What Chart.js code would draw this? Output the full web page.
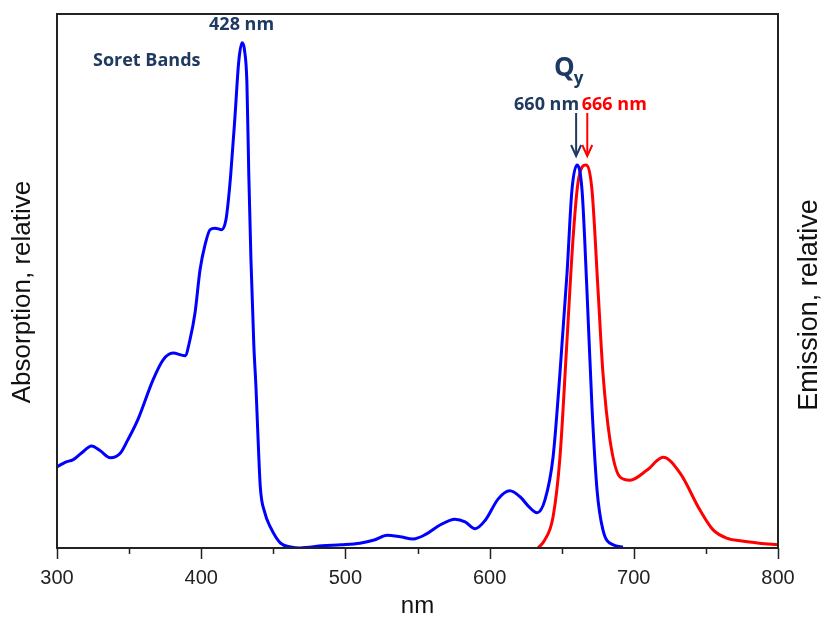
<!DOCTYPE html>
<html>
<head>
<meta charset="utf-8">
<script src="https://cdn.jsdelivr.net/npm/chart.js@4.4.1/dist/chart.umd.min.js"></script>
<style>
  html, body { margin: 0; padding: 0; background: #fff; }
  #wrap { width: 822px; height: 625px; }
</style>
</head>
<body>
<div id="wrap"><canvas id="spectra" width="822" height="625"></canvas></div>
<script>
// Absorption spectrum (relative units, 0-100)
const absWavelengths = [300, 306, 311, 317, 324, 330, 337, 344, 349, 356, 366.6, 373.5, 380.4, 388.8, 392.2, 395.7, 399.2, 402.6, 406.1, 409.6, 414.4, 417.2, 418.8, 420.5, 423.4, 426, 428.3, 430, 431.7, 433, 434.5, 436.5, 438, 439.2, 441, 444, 448, 455, 462, 468.5, 484, 497, 510, 520, 529, 538, 547, 556, 565.6, 576, 583, 590, 597, 606, 614, 621.1, 627, 632.9, 638.4, 644, 648.8, 653.7, 657.1, 660.6, 664.1, 667.5, 671, 674.5, 678.6, 685.6, 692.5];
const absValues = [15.2, 16.1, 16.5, 17.8, 19.1, 18.2, 16.9, 17.8, 20.2, 24.0, 31.5, 35.2, 36.5, 36.0, 39.0, 44.0, 52.1, 56.7, 59.6, 59.9, 59.6, 61.5, 65.0, 70.0, 80.7, 91.0, 94.6, 93.3, 87.1, 70.0, 54.0, 38.0, 30.0, 22.0, 11.4, 6.7, 3.9, 0.9, 0.2, 0, 0.4, 0.6, 0.9, 1.5, 2.4, 2.1, 1.7, 2.6, 4.3, 5.4, 4.9, 3.6, 5.2, 9.2, 10.7, 9.6, 7.8, 6.6, 9.0, 17.0, 32.8, 51.5, 67.0, 71.7, 67.0, 48.3, 26.4, 10.9, 3.4, 0.6, 0.2];

// Emission spectrum (relative units, 0-100)
const emWavelengths = [633.6, 638, 644, 648.8, 653.7, 657.8, 661.3, 666.8, 671, 675.2, 678.6, 683.5, 690.4, 697.4, 709.2, 720.3, 732.1, 745.9, 755, 765, 775, 787, 800];
const emValues = [0, 1.4, 5.8, 17.0, 39.0, 57.7, 68.4, 71.7, 67.0, 48.3, 32.8, 20.2, 13.3, 12.7, 14.6, 17.0, 14.0, 7.1, 3.4, 1.8, 1.3, 0.9, 0.6];

const xTickValues = [300, 400, 500, 600, 700, 800];
const xMinorTicks = [350, 450, 550, 650, 750];

const soretPeak = { nm: 428, label: '428 nm' };
const qyAbs = { nm: 660, label: '660 nm' };
const qyEm = { nm: 666, label: '666 nm' };

const NAVY = '#1f3a60';
const FONT = '"Liberation Sans", Arial, sans-serif';
const LABEL_FONT = '"Open Sans", "Noto Sans", sans-serif';

function toPoints(xs, ys) {
    return xs.map((x, i) => ({ x: x, y: ys[i] }));
}

// frame around the plot, tick marks under the x axis, side titles
const framePlugin = {
    id: 'frame',
    afterDatasetsDraw(chart) {
        const { ctx, chartArea: a, scales } = chart;
        ctx.save();
        ctx.strokeStyle = '#222';
        ctx.lineWidth = 2;
        ctx.strokeRect(a.left, a.top, a.right - a.left, a.bottom - a.top);
        ctx.lineWidth = 1.5;
        ctx.beginPath();
        xTickValues.forEach(v => {
            const px = Math.round(scales.x.getPixelForValue(v)) + 0.5;
            ctx.moveTo(px, a.bottom);
            ctx.lineTo(px, a.bottom + 11);
        });
        xMinorTicks.forEach(v => {
            const px = Math.round(scales.x.getPixelForValue(v)) + 0.5;
            ctx.moveTo(px, a.bottom);
            ctx.lineTo(px, a.bottom + 6);
        });
        ctx.stroke();

        // both side titles read bottom to top
        ctx.fillStyle = '#111';
        ctx.textAlign = 'center';
        ctx.textBaseline = 'middle';
        const cy = (a.top + a.bottom) / 2;
        ctx.save();
        ctx.translate(23, cy + 11);
        ctx.rotate(-Math.PI / 2);
        ctx.font = '26px ' + FONT;
        ctx.fillText('Absorption, relative', 0, 0);
        ctx.restore();
        ctx.save();
        ctx.translate(a.right + 32, cy + 24);
        ctx.rotate(-Math.PI / 2);
        ctx.font = '27px ' + FONT;
        ctx.fillText('Emission, relative', 0, 0);
        ctx.restore();
        ctx.restore();
    }
};

function arrowDown(ctx, x, y0, y1, color) {
    ctx.strokeStyle = color;
    ctx.lineWidth = 2;
    ctx.beginPath();
    ctx.moveTo(x, y0);
    ctx.lineTo(x, y1 - 2);
    ctx.stroke();
    ctx.beginPath();
    ctx.moveTo(x - 5, y1 - 11);
    ctx.lineTo(x, y1);
    ctx.lineTo(x + 5, y1 - 11);
    ctx.stroke();
}

// peak labels and arrows
const labelPlugin = {
    id: 'peakLabels',
    afterDraw(chart) {
        const { ctx, scales } = chart;
        const x = scales.x;
        ctx.save();
        ctx.textBaseline = 'middle';

        ctx.fillStyle = NAVY;
        ctx.font = 'bold 18px ' + LABEL_FONT;
        ctx.textAlign = 'center';
        ctx.fillText(soretPeak.label, x.getPixelForValue(soretPeak.nm), 25);

        ctx.textAlign = 'left';
        ctx.fillText('Soret Bands', 93, 61);

        // Q with subscript y
        ctx.font = 'bold 26px ' + LABEL_FONT;
        ctx.fillText('Q', 554, 69);
        const qw = ctx.measureText('Q').width;
        ctx.font = 'bold 17px ' + LABEL_FONT;
        ctx.fillText('y', 553 + qw, 79);

        const xa = x.getPixelForValue(qyAbs.nm);
        const xe = x.getPixelForValue(qyEm.nm);
        ctx.font = 'bold 18px ' + LABEL_FONT;
        ctx.textAlign = 'right';
        ctx.fillStyle = NAVY;
        ctx.fillText(qyAbs.label, xa + 3, 105);
        ctx.textAlign = 'left';
        ctx.fillStyle = '#ff0000';
        ctx.fillText(qyEm.label, xe - 3, 105);

        arrowDown(ctx, xa, 113, 156, NAVY);
        arrowDown(ctx, xe + 2.5, 113, 156, '#ff0000');
        ctx.restore();
    }
};

new Chart(document.getElementById('spectra'), {
    type: 'line',
    data: {
        datasets: [{
            label: 'Absorption',
            data: toPoints(absWavelengths, absValues),
            borderColor: '#0000ff',
            borderWidth: 3,
            pointRadius: 0,
            cubicInterpolationMode: 'monotone',
            yAxisID: 'y'
        }, {
            label: 'Emission',
            data: toPoints(emWavelengths, emValues),
            borderColor: '#ff0000',
            borderWidth: 3,
            pointRadius: 0,
            cubicInterpolationMode: 'monotone',
            yAxisID: 'y2'
        }]
    },
    options: {
        responsive: false,
        animation: false,
        layout: { padding: { top: 14, left: 0, right: 0, bottom: 0 } },
        plugins: {
            legend: { display: false },
            tooltip: { enabled: false }
        },
        scales: {
            x: {
                type: 'linear',
                min: 300,
                max: 800,
                afterBuildTicks: scale => {
                    scale.ticks = xTickValues.map(v => ({ value: v }));
                },
                afterFit: scale => { scale.height = 77; },
                grid: { display: false, drawTicks: false },
                border: { display: false },
                ticks: {
                    padding: 18,
                    color: '#222',
                    font: { family: FONT, size: 20 }
                },
                title: {
                    display: true,
                    text: 'nm',
                    color: '#111',
                    font: { family: FONT, size: 24 },
                    padding: { top: 12 }
                }
            },
            y: {
                position: 'left',
                min: 0,
                max: 100,
                afterFit: scale => { scale.width = 57; },
                grid: { display: false, drawTicks: false },
                border: { display: false },
                ticks: { display: false }
            },
            y2: {
                position: 'right',
                min: 0,
                max: 100,
                afterFit: scale => { scale.width = 44; },
                grid: { display: false, drawTicks: false },
                border: { display: false },
                ticks: { display: false }
            }
        }
    },
    plugins: [framePlugin, labelPlugin]
});
</script>
</body>
</html>
